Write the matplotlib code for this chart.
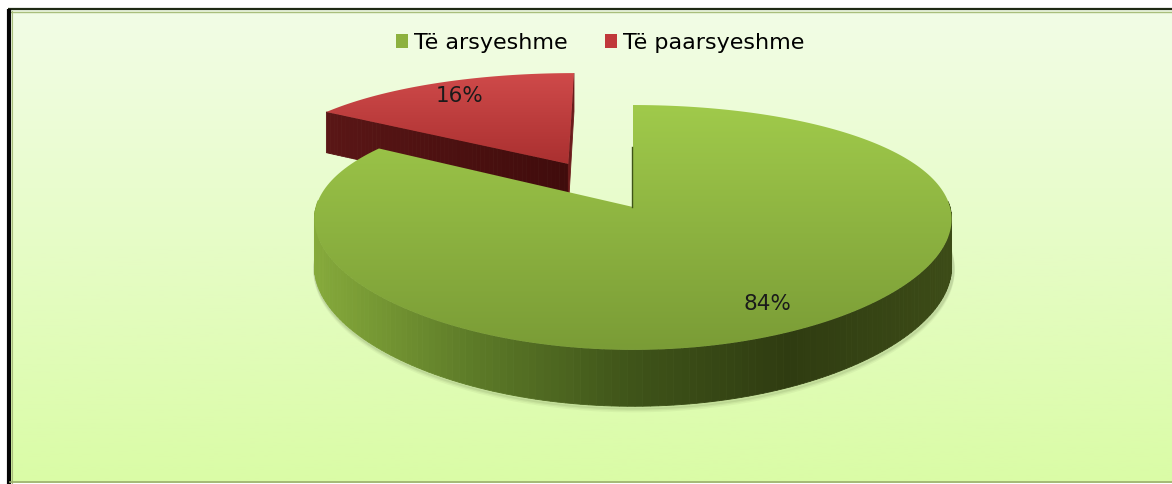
import numpy as np
import matplotlib.pyplot as plt
from matplotlib.patches import Polygon, Patch
from matplotlib.colors import LinearSegmentedColormap

labels = ["Të arsyeshme", "Të paarsyeshme"]
shares = [84, 16]
explode = [0.0, 0.44]
top_colors = [("#a0ca4b", "#7a9c36"), ("#cf4a4a", "#aa3030")]
wall_colors = [["#86aa3b", "#5d7b28", "#3f5419", "#2f3c11", "#3c4b17"], ["#5a1616", "#400c0c"]]
legend_colors = ["#8db13f", "#c0383a"]

W, H = 1172, 484
CX, CY = 633, 207
RX, RY = 317, 119
KX, KY = 0.1, 0.167
DEPTH = 47

plt.rcParams["font.family"] = ["DejaVu Sans"]


def project(u, v, z=0.0):
    sx = 1.0 / (1.0 + KX * v)
    sy = 1.0 / (1.0 + KY * v)
    return CX + RX * u * sx, CY - RY * v * sy + DEPTH * z * sy


def gradient_fill(ax, poly, c_top, c_bot, y0, y1):
    cmap = LinearSegmentedColormap.from_list("g", [c_top, c_bot])
    grad = np.linspace(0, 1, 256).reshape(-1, 1)
    im = ax.imshow(grad, cmap=cmap, extent=[0, W, y1, y0], aspect="auto", zorder=poly.get_zorder())
    im.set_clip_path(poly)


fig = plt.figure(figsize=(W / 100, H / 100), dpi=100)
ax = fig.add_axes([0, 0, 1, 1])
ax.set_xlim(0, W)
ax.set_ylim(H, 0)
ax.axis("off")

# chart area background and frame
bg = LinearSegmentedColormap.from_list("bg", ["#f2fde6", "#e6fcc6", "#dafca6"])
ax.imshow(np.linspace(0, 1, 256).reshape(-1, 1), cmap=bg, extent=[10, W, H - 1, 10], aspect="auto", zorder=0)
ax.plot([8, W], [9, 9], color="#1f2a15", lw=1.6, zorder=1, solid_capstyle="butt")
ax.plot([10, W], [11.5, 11.5], color="#a9be7c", lw=1.0, zorder=1)
ax.plot([9, 9], [9, H], color="#050505", lw=3.0, zorder=1, solid_capstyle="butt")
ax.plot([12, 12], [11, H], color="#a9be7c", lw=0.8, zorder=1)
ax.plot([10, W], [H - 2, H - 2], color="#9caf6e", lw=1.2, zorder=1)

fractions = np.array(shares, dtype=float) / sum(shares)
starts = np.concatenate([[0], np.cumsum(fractions)[:-1]]) * 2 * np.pi
ends = np.cumsum(fractions) * 2 * np.pi

order = [1, 0]  # back slice first
for z, i in enumerate(order):
    t0, t1 = starts[i], ends[i]
    mid = (t0 + t1) / 2
    ou, ov = explode[i] * np.sin(mid), explode[i] * np.cos(mid)
    base = 3 + z * 3
    t = np.linspace(t0, t1, 240)
    ru, rv = ou + np.sin(t), ov + np.cos(t)

    if i == 0:
        # soft shadow under the front rim
        front = np.cos(t) < 0.1
        shx, shy = project(ru[front], rv[front], 1)
        for off, a in [(4, 0.06), (2.5, 0.08), (1.2, 0.1)]:
            ax.plot(shx + 1, shy + off, color="#4a5a30", lw=3, alpha=a, zorder=base - 0.5)
        # curved outer wall, front part only
        wcmap = LinearSegmentedColormap.from_list("w", wall_colors[0])
        xs_top, ys_top = project(ru, rv, 0)
        xs_bot, ys_bot = project(ru, rv, 1)
        xmin, xmax = xs_top.min(), xs_top.max()
        for j in range(len(t) - 1):
            if np.cos((t[j] + t[j + 1]) / 2) > 0.05:
                continue
            quad = [(xs_top[j], ys_top[j]), (xs_top[j + 1], ys_top[j + 1]),
                    (xs_bot[j + 1], ys_bot[j + 1]), (xs_bot[j], ys_bot[j])]
            c = wcmap((xs_top[j] - xmin) / (xmax - xmin))
            ax.add_patch(Polygon(quad, closed=True, fc=c, ec=c, lw=0.6, zorder=base))
        # edge-on start wall
        ex, ey = project(np.array([0.0, 0.0]), np.array([0.55, 0.0]), 0)
        ax.plot(ex - 1, ey, color="#3f5419", lw=1.0, zorder=base + 2)
    else:
        # radial walls of the pulled-out slice
        wcmap = LinearSegmentedColormap.from_list("w", wall_colors[1])
        n = 60
        rr = np.linspace(0, 1, n + 1)
        for j in range(n):
            pts = []
            for r, zz in [(rr[j], 0), (rr[j + 1], 0), (rr[j + 1], 1), (rr[j], 1)]:
                pts.append(project(ou + r * np.sin(t0), ov + r * np.cos(t0), zz))
            c = wcmap(1 - rr[j])
            ax.add_patch(Polygon(pts, closed=True, fc=c, ec=c, lw=0.6, zorder=base))
        pts = [project(ou, ov, 0), project(ou + np.sin(t1), ov + np.cos(t1), 0),
               project(ou + np.sin(t1), ov + np.cos(t1), 1), project(ou, ov, 1)]
        ax.add_patch(Polygon(pts, closed=True, fc="#6b1b1b", ec="#6b1b1b", lw=0.6, zorder=base))

    # top face
    px, py = project(np.concatenate([[ou], ru]), np.concatenate([[ov], rv]), 0)
    poly = Polygon(np.column_stack([px, py]), closed=True, fc="none", ec="none", zorder=base + 1)
    ax.add_patch(poly)
    gradient_fill(ax, poly, top_colors[i][0], top_colors[i][1], py.min(), py.max())

    # percentage label
    lx, ly = project(ou + 0.82 * np.sin(mid), ov + 0.82 * np.cos(mid), 0)
    ax.text(lx, ly, f"{shares[i]}%", ha="center", va="center", fontsize=15.5, color="#1a1a1a", zorder=20)

handles = [Patch(facecolor=c, edgecolor="none") for c in legend_colors]
ax.legend(handles, labels, loc="center", bbox_to_anchor=(0.512, 1 - 43 / H), ncol=2, frameon=False,
          fontsize=16, handlelength=0.55, handleheight=0.55, handletextpad=0.25, columnspacing=1.7)

fig.savefig("out.png", dpi=100)
